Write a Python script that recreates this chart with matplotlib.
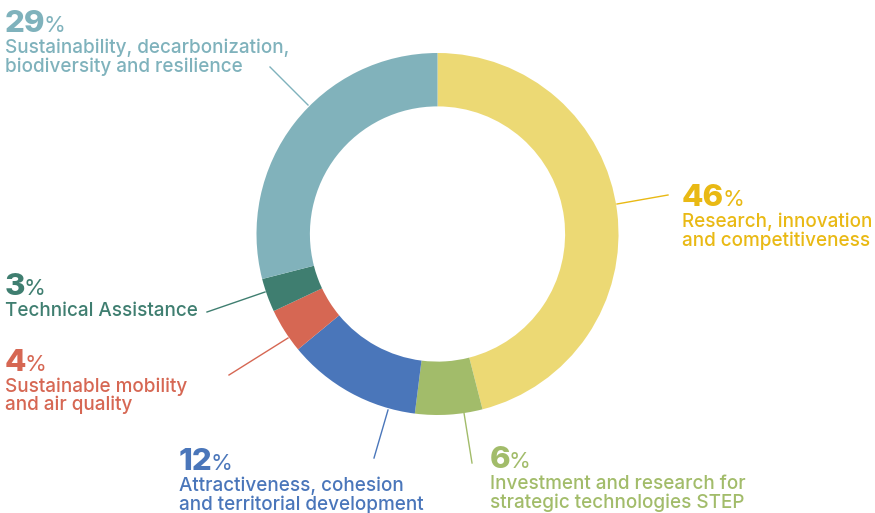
import matplotlib.pyplot as plt

# slice data, clockwise from 12 o'clock
labels = [
    ["Research, innovation", "and competitiveness"],
    ["Investment and research for", "strategic technologies STEP"],
    ["Attractiveness, cohesion", "and territorial development"],
    ["Sustainable mobility", "and air quality"],
    ["Technical Assistance"],
    ["Sustainability, decarbonization,", "biodiversity and resilience"],
]
shares = [46, 6, 12, 4, 3, 29]
wedge_colors = ["#ECD974", "#A2BC6A", "#4A76BA", "#D66753", "#3F7E70", "#81B2BB"]
text_colors = ["#E9B914", "#A2BC6A", "#4A76BA", "#D66753", "#3F7E70", "#7FB2BC"]

# label anchor (x, number baseline) and leader line ends, in image pixels
label_pos = [(682, 206), (490, 468), (179, 470), (5, 371), (5, 295), (5, 32)]
leaders = [
    [(617, 204), (668, 195)],
    [(464, 413), (472, 463)],
    [(388, 410), (374, 458)],
    [(288, 338), (229, 375)],
    [(265, 292), (207, 312)],
    [(308, 105), (270, 67)],
]

W, H = 875, 513
fig = plt.figure(figsize=(W / 100, H / 100), dpi=100)
ax = fig.add_axes([0, 0, 1, 1])

cx, cy, r = 437.5, H - 234, 181
ax.pie(shares, colors=wedge_colors, startangle=90, counterclock=False,
       radius=r, center=(cx, cy),
       wedgeprops=dict(width=r * 0.295, linewidth=0))
ax.set_xlim(0, W)
ax.set_ylim(0, H)
ax.set_aspect("auto")
ax.axis("off")

font = "Inter"
for i, pct in enumerate(shares):
    col = text_colors[i]
    (x0, y0), (x1, y1) = leaders[i]
    ax.plot([x0, x1], [H - y0, H - y1], color=col, lw=1)

    x, base = label_pos[i]
    num = ax.text(x, H - base, str(pct), color=col, fontsize=22.5,
                  fontweight="heavy", family=font, va="baseline", ha="left")
    ax.annotate("%", xy=(1, H - base), xycoords=(num, "data"),
                xytext=(-1.5, 0), textcoords="offset points",
                color=col, fontsize=16, family=font, va="baseline", ha="left")
    for j, line in enumerate(labels[i]):
        ax.text(x, H - (base + 21 + 18.5 * j), line, color=col,
                fontsize=13.6, family=font, fontweight="medium",
                va="baseline", ha="left")

fig.savefig("out.png", dpi=100)
